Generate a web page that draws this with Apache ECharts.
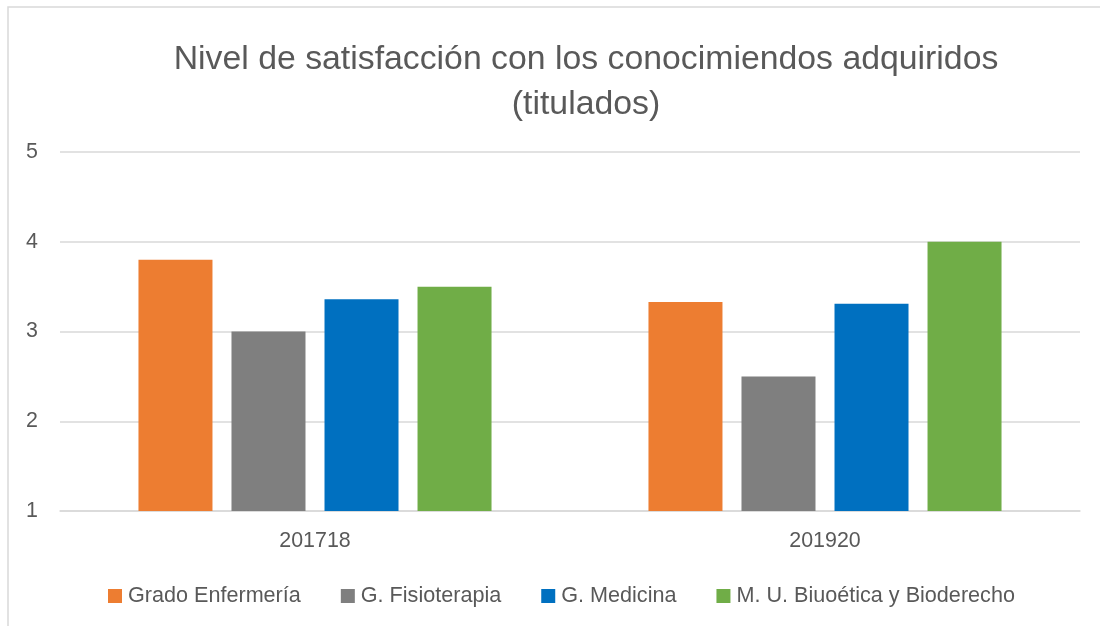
<!DOCTYPE html>
<html lang="es">
<head>
    <meta charset="UTF-8">
    <title>Nivel de satisfacción</title>
    <script src="https://cdn.jsdelivr.net/npm/echarts@6/dist/echarts.min.js"></script>
</head>
<body style="margin: 0; background: #fff;">
<div id="container" style="width: 1100px; height: 626px;"></div>
<script type="text/javascript">
    // datos del gráfico
    const cursos = ['201718', '201920'];
    const enfermeria = [3.8, 3.33];
    const fisioterapia = [3.0, 2.5];
    const medicina = [3.36, 3.31];
    const bioetica = [3.5, 4.0];
    const nombres = ['Grado Enfermería', 'G. Fisioterapia', 'G. Medicina', 'M. U. Biuoética y Bioderecho'];
    const colores = ['#ED7D31', '#7F7F7F', '#0070C0', '#70AD47'];

    let dom = document.getElementById('container');
    let myChart = echarts.init(dom);

    let serie = function (i, datos) {
        return {
            type: 'bar',
            name: nombres[i],
            data: datos,
            barWidth: 74,
            barGap: '25.7%',
            itemStyle: {color: colores[i]}
        };
    };

    let option = {
        animation: false,
        textStyle: {fontFamily: '"Liberation Sans", Arial, sans-serif'},
        title: {
            text: 'Nivel de satisfacción con los conocimiendos adquiridos\n(titulados)',
            left: 581,
            top: 32,
            textAlign: 'center',
            textStyle: {
                fontSize: 33.8,
                fontWeight: 'normal',
                color: '#595959',
                lineHeight: 45,
                fontFamily: '"Liberation Sans", Arial, sans-serif'
            }
        },
        graphic: [{
            type: 'rect',
            shape: {x: 8, y: 7, width: 1200, height: 700},
            style: {fill: 'none', stroke: '#d9d9d9', lineWidth: 1.5},
            silent: true
        }],
        legend: {
            data: nombres,
            left: 103,
            top: 580,
            itemWidth: 14,
            itemHeight: 14,
            itemGap: 40,
            icon: 'rect',
            textStyle: {fontSize: 21.6, color: '#595959', padding: [0, 0, 0, 1]}
        },
        grid: {left: 60, right: 20, top: 152, bottom: 115, containLabel: false},
        xAxis: {
            type: 'category',
            data: cursos,
            axisLine: {lineStyle: {color: '#d9d9d9', width: 1.5}},
            axisTick: {show: false},
            axisLabel: {fontSize: 21.4, color: '#595959', margin: 20}
        },
        yAxis: {
            type: 'value',
            min: 1,
            max: 5,
            interval: 1,
            axisLine: {show: false},
            axisTick: {show: false},
            axisLabel: {fontSize: 21.4, color: '#595959', margin: 22},
            splitLine: {lineStyle: {color: '#d9d9d9', width: 1.5}}
        },
        series: [
            serie(0, enfermeria),
            serie(1, fisioterapia),
            serie(2, medicina),
            serie(3, bioetica)
        ]
    };
    myChart.setOption(option);
</script>
</body>
</html>
